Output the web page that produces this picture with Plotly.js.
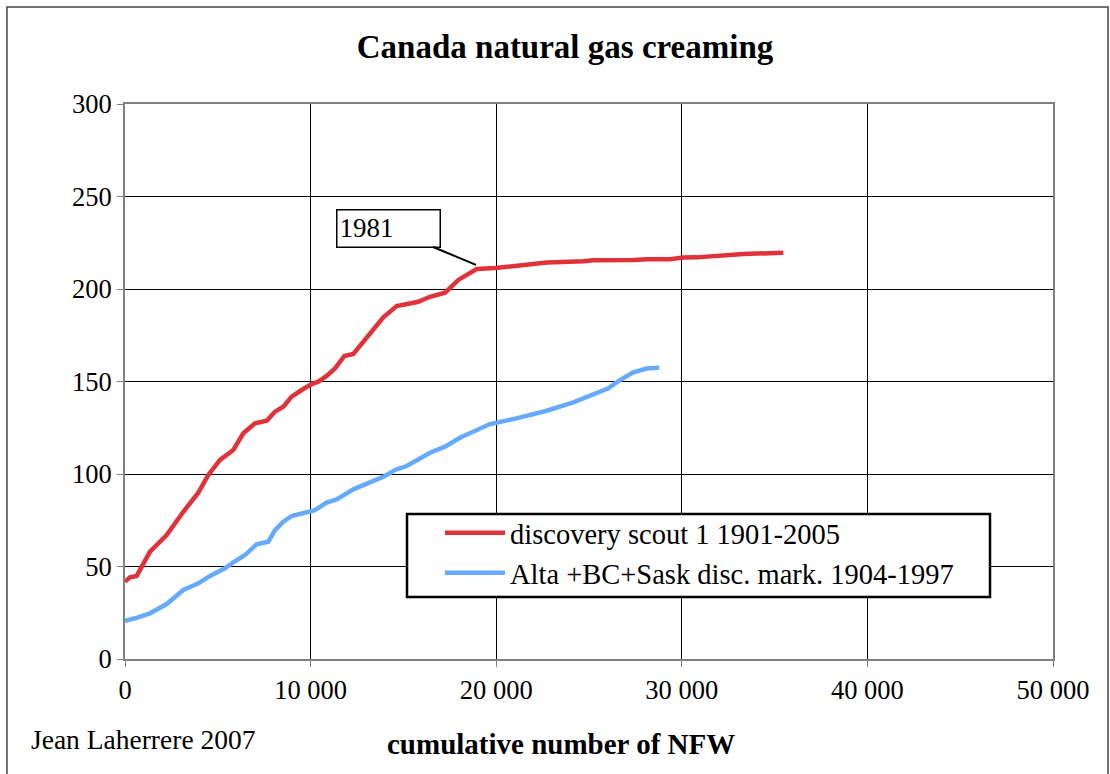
<!DOCTYPE html>
<html>
<head>
<meta charset="utf-8">
<script src="https://cdn.plot.ly/plotly-3.0.1.min.js"></script>
<style>html,body{margin:0;padding:0;background:#fff;}#chart{width:1110px;height:774px;}</style>
</head>
<body>
<div id="chart"></div>
<script>
// Data
const scoutName = "discovery scout 1 1901-2005";
const scoutX = [0, 269, 630, 986, 1347, 1796, 2245, 2694, 3142, 3951, 4490, 5119, 5837, 6376, 7004, 7634, 8082, 8531, 8980, 9518, 10057, 10416, 10865, 11315, 11818, 12302, 12752, 13290, 13919, 14637, 15176, 15804, 16433, 17241, 17960, 18948, 19935, 21013, 21460, 22720, 24696, 25233, 27388, 28107, 29364, 30083, 30802, 31698, 33315, 35470];
const scoutY = [41.8, 44.2, 44.9, 51.7, 58, 62.5, 67, 73.3, 79.6, 89.9, 99.5, 107.6, 113, 122, 127.4, 128.8, 133.7, 136.4, 141.8, 145.4, 148.6, 149.9, 153, 157.1, 163.8, 164.9, 170.6, 177.5, 184.7, 190.8, 191.7, 193.1, 195.8, 198, 204.9, 210.8, 211.3, 212.5, 213.5, 214.3, 215, 215.5, 215.7, 216.1, 216.1, 217, 217.1, 217.8, 218.9, 219.6];

const marketName = "Alta +BC+Sask disc. mark. 1904-1997";
const marketX = [0, 539, 1347, 2245, 3142, 3951, 4580, 5388, 5837, 6466, 7094, 7721, 8082, 8531, 8980, 9788, 10237, 10865, 11404, 12302, 13110, 14009, 14547, 15176, 16433, 17241, 18050, 18858, 19666, 20921, 22101, 22720, 24156, 25233, 26042, 26670, 27388, 28107, 28788];
const marketY = [20.7, 22, 24.7, 29.7, 37.3, 40.9, 44.9, 49, 52.3, 56.2, 62, 63.4, 69.7, 74.2, 77.3, 79.6, 80.5, 84.5, 86.3, 91.7, 95.3, 98.9, 102.2, 104.3, 111.5, 114.8, 119.6, 123.4, 127, 129.7, 132.3, 134.2, 138.7, 143.2, 146.3, 150.8, 155, 157, 157.5];

const xTickVals = [0, 10000, 20000, 30000, 40000, 50000];
const yTickVals = [0, 50, 100, 150, 200, 250, 300];

const titleText = "Canada natural gas creaming";
const xTitleText = "cumulative number of NFW";
const authorText = "Jean Laherrere 2007";
const yearLabel = "1981";
const yearX = 18912;
const yearY = 213;

const serif = "'Liberation Serif', 'Times New Roman', 'DejaVu Serif', serif";

const traces = [
  {x: scoutX, y: scoutY, name: scoutName, type: "scatter", mode: "lines",
   line: {color: "#e0323a", width: 4.5}},
  {x: marketX, y: marketY, name: marketName, type: "scatter", mode: "lines",
   line: {color: "#66aaff", width: 4.5}}
];

// pixel helpers for paper coordinates of the decorations
const px = v => (v - 125) / 928;
const py = v => (659 - v) / 555;

const layout = {
  width: 1110, height: 774,
  margin: {l: 125, r: 57, t: 104, b: 115, pad: 0},
  paper_bgcolor: "#fff", plot_bgcolor: "#fff",
  separators: ". ",
  font: {family: serif, size: 25, color: "#000"},
  title: {text: "<b>" + titleText + "</b>", x: 0.509, xref: "container", xanchor: "center",
          y: 0.94, yref: "container", yanchor: "middle",
          font: {family: serif, size: 33, color: "#000"}},
  showlegend: true,
  legend: {x: px(440), y: 0.2726, xanchor: "left", yanchor: "top",
           bgcolor: "rgba(0,0,0,0)", borderwidth: 0,
           font: {family: serif, size: 28.5, color: "#000"},
           itemwidth: 60, tracegroupgap: 0},
  xaxis: {range: [0, 50000], tickvals: xTickVals, tickformat: ",d",
          showgrid: true, gridcolor: "#000", gridwidth: 1,
          zeroline: false, showline: true, linecolor: "#808080", linewidth: 2, mirror: true,
          ticks: "outside", ticklen: 6, tickcolor: "#808080", tickwidth: 1,
          tickfont: {family: serif, size: 26.5, color: "#000"}, fixedrange: true},
  yaxis: {range: [0, 300], tickvals: yTickVals,
          showgrid: true, gridcolor: "#000", gridwidth: 1,
          zeroline: false, showline: true, linecolor: "#808080", linewidth: 2, mirror: true,
          ticks: "outside", ticklen: 6, tickcolor: "#808080", tickwidth: 1,
          tickfont: {family: serif, size: 26.5, color: "#000"}, fixedrange: true},
  shapes: [
    {type: "rect", xref: "paper", yref: "paper", x0: -0.1272, x1: 1.0593, y0: -0.25, y1: 1.1748,
     line: {color: "#444", width: 1.5}, fillcolor: "rgba(0,0,0,0)", layer: "below"},
    {type: "rect", xref: "paper", yref: "paper", x0: px(407), x1: px(990), y0: py(597), y1: py(514),
     line: {color: "#000", width: 2.5}, fillcolor: "#fff", layer: "above"}
  ],
  annotations: [
    {text: "<b>" + xTitleText + "</b>", xref: "paper", yref: "paper", x: px(561), y: py(744),
     xanchor: "center", yanchor: "middle", showarrow: false,
     font: {family: serif, size: 29, color: "#000"}},
    {text: authorText, xref: "paper", yref: "paper", x: px(29), y: py(739),
     xanchor: "left", yanchor: "middle", showarrow: false,
     font: {family: serif, size: 27.5, color: "#000"}},
    {text: yearLabel, x: yearX, y: yearY, xref: "x", yref: "y",
     showarrow: true, arrowhead: 0, arrowwidth: 2, arrowcolor: "#000",
     ax: -87.6, ay: -36.7, width: 98, height: 32, align: "left", valign: "top",
     bordercolor: "#000", borderwidth: 1.5, borderpad: 2, bgcolor: "#fff",
     font: {family: serif, size: 27, color: "#000"}}
  ]
};

Plotly.newPlot("chart", traces, layout, {displayModeBar: false, staticPlot: true});
</script>
</body>
</html>
